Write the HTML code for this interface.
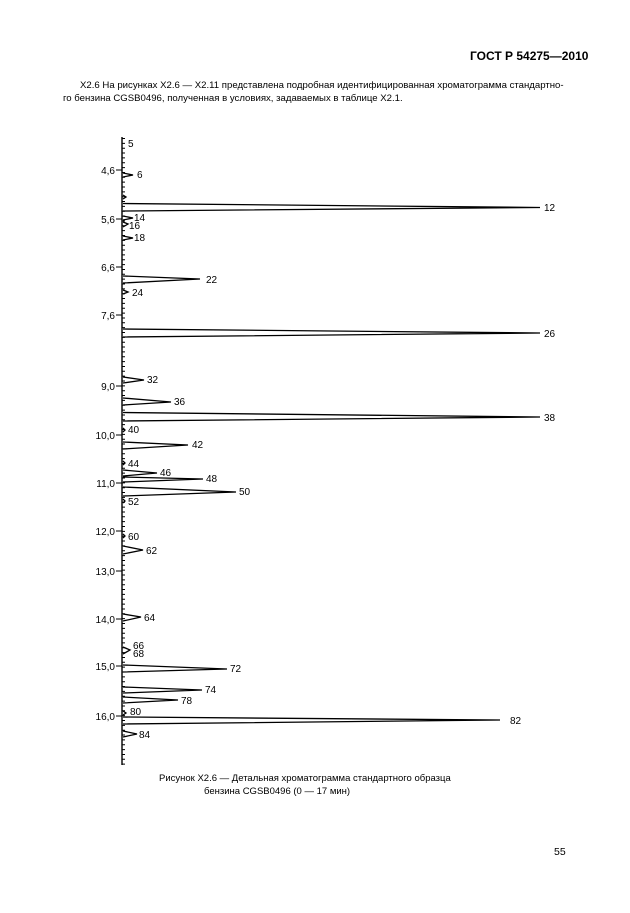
<!DOCTYPE html>
<html><head><meta charset="utf-8"><style>
html,body{margin:0;padding:0;background:#fff;}
body{width:630px;height:913px;position:relative;overflow:hidden;font-family:"Liberation Sans",Arial,sans-serif;color:#000;}
.t{position:absolute;white-space:nowrap;}
</style></head><body>
<div class="t" style="left:470px;top:49px;font-size:12px;font-weight:bold;">ГОСТ Р 54275—2010</div>
<div class="t" style="left:80px;top:80px;font-size:9.6px;">Х2.6 На рисунках Х2.6 — Х2.11 представлена подробная идентифицированная хроматограмма стандартно-</div>
<div class="t" style="left:63px;top:93px;font-size:9.6px;">го бензина CGSB0496, полученная в условиях, задаваемых в таблице Х2.1.</div>
<svg width="630" height="913" style="position:absolute;left:0;top:0" font-family="Liberation Sans, Arial, sans-serif" font-size="10">
<g stroke="#000" fill="none">
<line x1="122" y1="137" x2="122" y2="765" stroke-width="1.4"/>
<line x1="123.5" y1="138" x2="123.5" y2="765" stroke-width="3" stroke-dasharray="1 3.85"/>
<g stroke-width="1">
<line x1="116" y1="170" x2="122" y2="170"/><line x1="116" y1="219" x2="122" y2="219"/>
<line x1="116" y1="267" x2="122" y2="267"/><line x1="116" y1="315" x2="122" y2="315"/>
<line x1="116" y1="386" x2="122" y2="386"/><line x1="116" y1="435" x2="122" y2="435"/>
<line x1="116" y1="483" x2="122" y2="483"/><line x1="116" y1="531" x2="122" y2="531"/>
<line x1="116" y1="571" x2="122" y2="571"/><line x1="116" y1="619" x2="122" y2="619"/>
<line x1="116" y1="666" x2="122" y2="666"/><line x1="116" y1="716" x2="122" y2="716"/>
</g>
<g stroke-width="1.3" stroke-linejoin="miter">
<path d="M123,173 L133,175 L123,177"/>
<path d="M123,195 L126,197 L123,199"/>
<path d="M123,203.5 L540,207.5 L123,211"/>
<path d="M123,216 L133,218 L123,220"/>
<path d="M123,222 L128,224 L123,227"/>
<path d="M123,236 L133,238 L123,240"/>
<path d="M123,276 L200,279 L123,283"/>
<path d="M123,290 L128,292 L123,294"/>
<path d="M123,329 L540,333 L123,337"/>
<path d="M123,377 L144,380 L123,383"/>
<path d="M123,398 L171,402 L123,405"/>
<path d="M123,412.5 L540,417 L123,421"/>
<path d="M123,428 L125,430 L123,432"/>
<path d="M123,442 L188,445 L123,449"/>
<path d="M123,461 L125,463 L123,465"/>
<path d="M123,470 L157,473 L123,476"/>
<path d="M123,477 L203,479 L123,482"/>
<path d="M123,487 L236,492 L123,496"/>
<path d="M123,499 L125,501 L123,503"/>
<path d="M123,534 L125,536 L123,538"/>
<path d="M123,546 L143,550 L123,554"/>
<path d="M123,614 L141,617 L123,621"/>
<path d="M123,647 L130,650 L123,654"/>
<path d="M123,665 L227,669 L123,672"/>
<path d="M123,687 L202,690 L123,693"/>
<path d="M123,697 L178,700 L123,703"/>
<path d="M123,711 L126,713 L123,715"/>
<path d="M123,717 L500,720 L123,724"/>
<path d="M123,731 L137,734 L123,737"/>
</g>
</g>
<g fill="#000" text-anchor="end">
<text x="115" y="174">4,6</text><text x="115" y="223">5,6</text>
<text x="115" y="271">6,6</text><text x="115" y="319">7,6</text>
<text x="115" y="390">9,0</text><text x="115" y="439">10,0</text>
<text x="115" y="487">11,0</text><text x="115" y="535">12,0</text>
<text x="115" y="575">13,0</text><text x="115" y="623">14,0</text>
<text x="115" y="670">15,0</text><text x="115" y="720">16,0</text>
</g>
<g fill="#000">
<text x="128" y="147">5</text><text x="137" y="178">6</text>
<text x="544" y="211">12</text><text x="134" y="221">14</text>
<text x="129" y="229">16</text><text x="134" y="241">18</text>
<text x="206" y="283">22</text><text x="132" y="296">24</text>
<text x="544" y="337">26</text><text x="147" y="383">32</text>
<text x="174" y="405">36</text><text x="544" y="421">38</text>
<text x="128" y="433">40</text><text x="192" y="448">42</text>
<text x="128" y="467">44</text><text x="160" y="476">46</text>
<text x="206" y="482">48</text><text x="239" y="495">50</text>
<text x="128" y="505">52</text><text x="128" y="540">60</text>
<text x="146" y="554">62</text><text x="144" y="621">64</text>
<text x="133" y="649">66</text><text x="133" y="657">68</text>
<text x="230" y="672">72</text><text x="205" y="693">74</text>
<text x="181" y="704">78</text><text x="130" y="715">80</text>
<text x="510" y="724">82</text><text x="139" y="738">84</text>
</g>
<text x="159" y="781" font-size="9.5">Рисунок Х2.6 — Детальная хроматограмма стандартного образца</text>
<text x="204" y="794" font-size="9.5">бензина CGSB0496 (0 — 17 мин)</text>
<text x="554" y="855" font-size="10.5">55</text>
</svg>
</body></html>
